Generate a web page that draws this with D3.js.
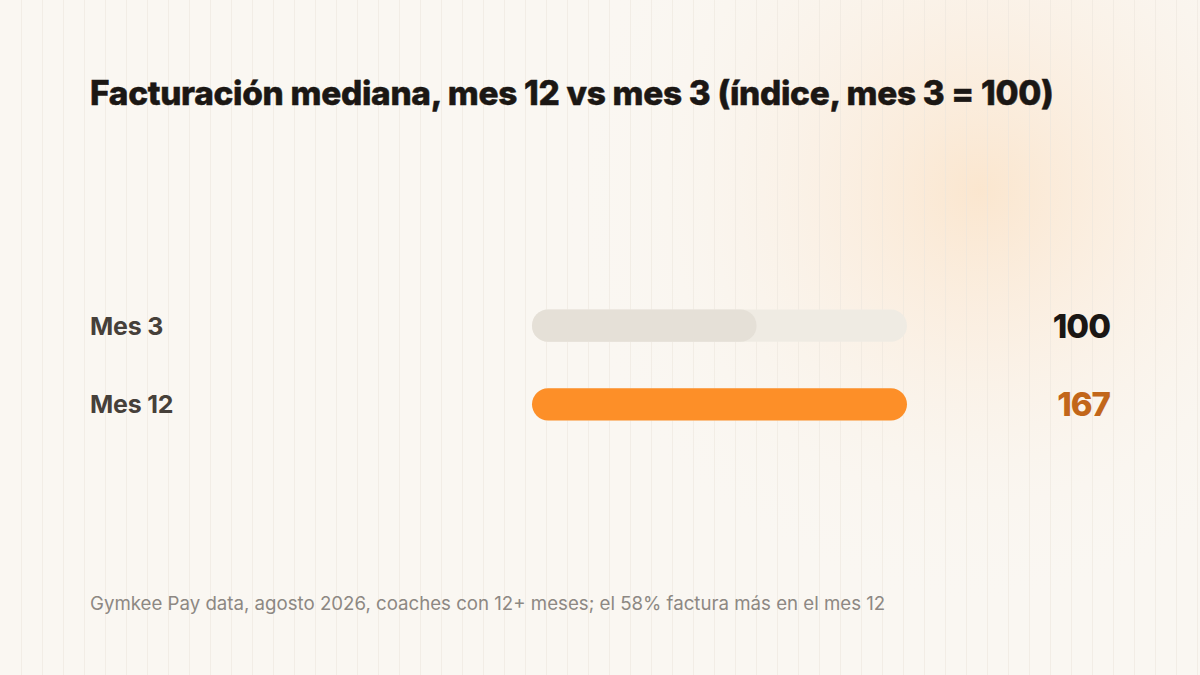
<!DOCTYPE html>
<html>
<head>
<meta charset="utf-8">
<script src="https://cdn.jsdelivr.net/npm/d3@7/dist/d3.min.js"></script>
<style>
  html, body { margin: 0; padding: 0; background: #faf7f2; }
  svg { display: block; }
</style>
</head>
<body>
<svg id="chart" width="1200" height="675"></svg>
<script>
const categories = ["Mes 3", "Mes 12"];
const values = [100, 167];
const valueLabels = ["100", "167"];
const titleText = "Facturación mediana, mes 12 vs mes 3 (índice, mes 3 = 100)";
const footnoteText = "Gymkee Pay data, agosto 2026, coaches con 12+ meses; el 58% factura más en el mes 12";

const W = 1200, H = 675;
const svg = d3.select("#chart");
const defs = svg.append("defs");

// background
svg.append("rect").attr("width", W).attr("height", H).attr("fill", "#faf7f2");
const glow = defs.append("radialGradient").attr("id", "glow")
  .attr("cx", 980).attr("cy", 190).attr("r", 420).attr("gradientUnits", "userSpaceOnUse");
glow.append("stop").attr("offset", "0%").attr("stop-color", "#fbe2c6").attr("stop-opacity", 0.8);
glow.append("stop").attr("offset", "35%").attr("stop-color", "#fbe8d4").attr("stop-opacity", 0.5);
glow.append("stop").attr("offset", "70%").attr("stop-color", "#faf0e4").attr("stop-opacity", 0.2);
glow.append("stop").attr("offset", "100%").attr("stop-color", "#faf7f2").attr("stop-opacity", 0);
svg.append("rect").attr("width", W).attr("height", H).attr("fill", "url(#glow)");

// faint vertical stripes
const stripes = d3.range(21.5, W, 21);
svg.append("g").selectAll("line").data(stripes).join("line")
  .attr("x1", d => d).attr("x2", d => d).attr("y1", 0).attr("y2", H)
  .attr("stroke", "#ece6dd").attr("stroke-width", 1).attr("opacity", 0.55);

// title
const title = svg.append("text").attr("x", 90).attr("y", 105)
  .attr("font-family", "Inter, 'Open Sans', sans-serif").attr("font-weight", 800)
  .attr("font-size", 32).attr("fill", "#1b1714").attr("letter-spacing", -0.3)
  .attr("stroke", "#1b1714").attr("stroke-width", 0.5)
  .text(titleText);
const tw = title.node().getComputedTextLength();
title.attr("font-size", 32 * 963 / tw);

// scales
const x = d3.scaleLinear().domain([0, d3.max(values)]).range([532, 907]);
const y = d3.scaleBand().domain(categories).range([286, 444]).paddingInner(0.59).paddingOuter(0.3);
const bh = y.bandwidth();

const rows = svg.append("g").selectAll("g").data(categories).join("g");

// tracks
rows.append("rect")
  .attr("x", x(0)).attr("y", d => y(d)).attr("width", x(d3.max(values)) - x(0)).attr("height", bh)
  .attr("rx", bh / 2).attr("fill", (d, i) => i === 0 ? "#efebe3" : "#f3efe8");

// bars
rows.append("rect")
  .attr("x", x(0)).attr("y", d => y(d))
  .attr("width", (d, i) => x(values[i]) - x(0)).attr("height", bh)
  .attr("rx", bh / 2).attr("fill", (d, i) => i === 0 ? "#e5e0d7" : "#fd8f28");

// category labels
const labels = rows.append("text").attr("x", 90).attr("y", d => y(d) + bh / 2)
  .attr("dy", "0.36em")
  .attr("font-family", "Inter, 'Open Sans', sans-serif").attr("font-weight", 700)
  .attr("font-size", 22).attr("fill", "#46403a").attr("letter-spacing", -0.2)
  .text(d => d);
const lw = labels.nodes()[0].getComputedTextLength();
labels.attr("font-size", 22 * 73 / lw);

// value labels
rows.append("text").attr("x", 1110).attr("y", d => y(d) + bh / 2)
  .attr("dy", "0.36em").attr("text-anchor", "end")
  .attr("font-family", "Inter, 'Open Sans', sans-serif").attr("font-weight", 800)
  .attr("font-size", 33).attr("letter-spacing", -1)
  .attr("fill", (d, i) => i === 0 ? "#1b1714" : "#c2661a")
  .text((d, i) => valueLabels[i]);

// footnote
const foot = svg.append("text").attr("x", 90).attr("y", 610)
  .attr("font-family", "Inter, 'Open Sans', sans-serif").attr("font-weight", 400)
  .attr("font-size", 16).attr("fill", "#8d8883")
  .text(footnoteText);
const fw = foot.node().getComputedTextLength();
foot.attr("font-size", 16 * 796 / fw);
</script>
</body>
</html>
